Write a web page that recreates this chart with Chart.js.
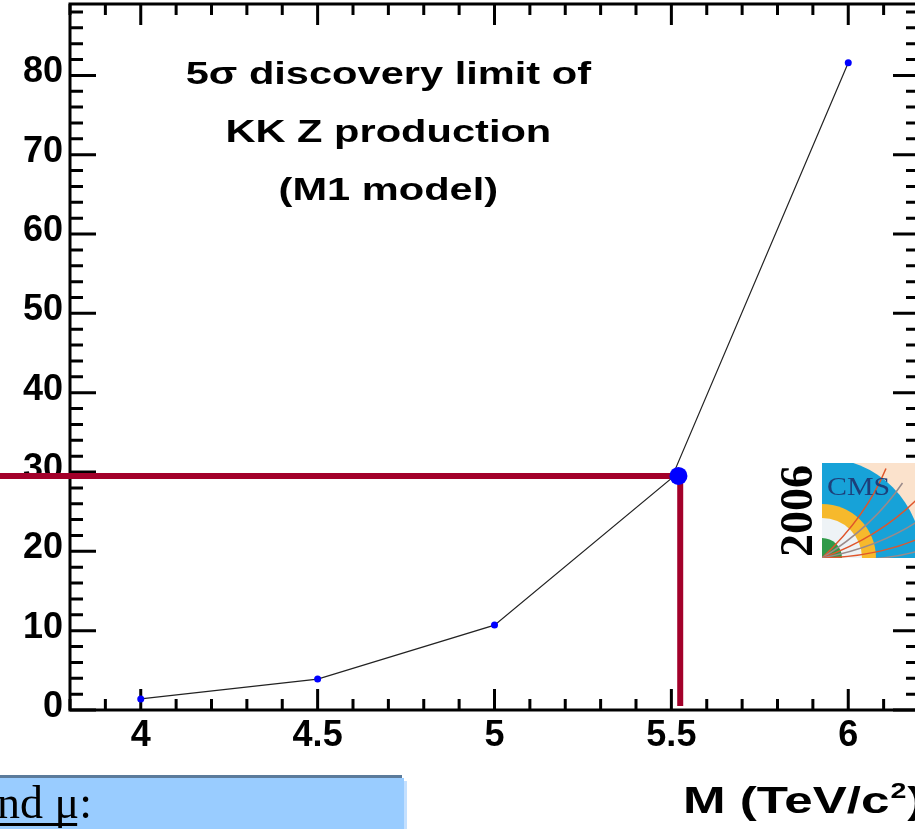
<!DOCTYPE html>
<html>
<head>
<meta charset="utf-8">
<script src="https://cdn.jsdelivr.net/npm/chart.js@4/dist/chart.umd.min.js"></script>
<style>
  html, body { margin: 0; padding: 0; background: #fff; overflow: hidden; }
  #wrap { position: relative; width: 925px; height: 829px; }
</style>
</head>
<body>
<div id="wrap"><canvas id="chart"></canvas></div>
<script>
// Valores (límite de descubrimiento 5 sigma)
const massValues = [4, 4.5, 5, 5.5, 6];
const lumiValues = [1.4, 3.9, 10.7, 29.2, 81.6];
const xTickLabels = [4, 4.5, 5, 5.5, 6];
const yTickLabels = [0, 10, 20, 30, 40, 50, 60, 70, 80];
const limitMass = [5.52];
const limitLumi = [29.5];
const titleLines = ['5σ discovery limit of', 'KK Z production', '(M1 model)'];

const RED = '#a3002a';
const BLUE = '#0000ff';
const FONT = '"Liberation Sans", Arial, sans-serif';
const SERIF = '"Liberation Serif", "Times New Roman", serif';

// texto estirado horizontalmente (el original está deformado)
function wideText(ctx, text, x, y, align, k) {
    ctx.save();
    ctx.translate(x, y);
    ctx.scale(k, 1);
    ctx.textAlign = align;
    ctx.fillText(text, 0, 0);
    ctx.restore();
    return ctx.measureText(text).width * k;
}

// Marco con marcas hacia dentro, estilo ROOT
const framePlugin = {
    id: 'frame',
    beforeDatasetsDraw(chart) {
        const { ctx, chartArea: a, scales: { x, y } } = chart;
        ctx.save();
        ctx.strokeStyle = '#000';
        ctx.lineWidth = 3;
        ctx.strokeRect(a.left, a.top, a.right - a.left, a.bottom - a.top);
        ctx.beginPath();
        for (let i = 38; i <= 62; i++) {
            const px = x.getPixelForValue(i / 10);
            const len = i % 5 === 0 ? 21 : 11;
            ctx.moveTo(px, a.bottom); ctx.lineTo(px, a.bottom - len);
            ctx.moveTo(px, a.top); ctx.lineTo(px, a.top + len);
        }
        for (let v = 0; v <= 88; v += 2) {
            const py = y.getPixelForValue(v);
            const len = v % 10 === 0 ? 26 : 13;
            ctx.moveTo(a.left, py); ctx.lineTo(a.left + len, py);
            ctx.moveTo(a.right, py); ctx.lineTo(a.right - len, py);
        }
        ctx.stroke();
        ctx.restore();
    },
    afterDraw(chart) {
        const { ctx, scales: { x } } = chart;
        ctx.save();
        // Título dentro del gráfico
        ctx.fillStyle = '#000';
        ctx.font = 'bold 32px ' + FONT;
        ctx.textBaseline = 'middle';
        const cx = x.getPixelForValue(4.7);
        titleLines.forEach((t, i) => wideText(ctx, t, cx, 75 + i * 58, 'center', 1.3));

        // Logo "2006" + CMS
        ctx.save();
        ctx.translate(798, 511);
        ctx.rotate(-Math.PI / 2);
        ctx.textAlign = 'center';
        ctx.font = 'bold 46px ' + SERIF;
        ctx.fillText('2006', 0, 2);
        ctx.restore();

        const lx = 822, ly = 463, lw = 95, lh = 95;
        ctx.save();
        ctx.beginPath();
        ctx.rect(lx, ly, lw, lh);
        ctx.clip();
        ctx.fillStyle = '#fbe2cc';
        ctx.fillRect(lx, ly, lw, lh);
        const ox = lx, oy = ly + lh;
        [[100, '#17a2d8'], [54, '#f6b92c'], [40, '#eef3f6'], [20, '#2f9a48']].forEach(([r, c]) => {
            ctx.fillStyle = c;
            ctx.beginPath();
            ctx.moveTo(ox, oy);
            ctx.arc(ox, oy, r, -Math.PI / 2, 0);
            ctx.closePath();
            ctx.fill();
        });
        ctx.lineWidth = 1.5;
        [[-0.95, '#e0552b'], [-0.75, '#9a8a8a'], [-0.55, '#e0552b'], [-0.38, '#9a8a8a'], [-0.22, '#e0552b'], [-0.1, '#9a8a8a']].forEach(([ang, c]) => {
            ctx.strokeStyle = c;
            ctx.beginPath();
            ctx.moveTo(ox, oy);
            ctx.quadraticCurveTo(ox + 60 * Math.cos(ang + 0.2), oy + 60 * Math.sin(ang + 0.2),
                ox + 110 * Math.cos(ang), oy + 110 * Math.sin(ang));
            ctx.stroke();
        });
        ctx.fillStyle = '#1d3f7a';
        ctx.font = '26px ' + SERIF;
        ctx.textBaseline = 'alphabetic';
        wideText(ctx, 'CMS', lx + 5, ly + 32, 'left', 1.15);
        ctx.restore();

        // Título del eje X
        ctx.textBaseline = 'alphabetic';
        ctx.fillStyle = '#000';
        ctx.font = 'bold 36px ' + FONT;
        const base = 813;
        let tx = 683;
        tx += wideText(ctx, 'M (TeV/c', tx, base, 'left', 1.42);
        ctx.font = 'bold 22px ' + FONT;
        tx += wideText(ctx, '2', tx + 1, base - 15, 'left', 1.3) + 2;
        ctx.font = 'bold 36px ' + FONT;
        wideText(ctx, ')', tx, base, 'left', 1.42);

        // Caja azul inferior (resto de la diapositiva)
        ctx.fillStyle = '#5b7b9b';
        ctx.fillRect(0, 775, 402, 3);
        ctx.fillStyle = '#c4e0ff';
        ctx.fillRect(404, 781, 3, 48);
        ctx.fillStyle = '#99ccff';
        ctx.fillRect(0, 778, 404, 51);
        ctx.fillStyle = '#000';
        ctx.font = '46px ' + SERIF;
        ctx.textAlign = 'left';
        ctx.fillText('nd μ:', -3, 818);
        const uw = ctx.measureText('nd μ').width;
        ctx.fillRect(0, 823, uw - 5, 3);
        ctx.restore();
    }
};

const ctx = document.getElementById('chart').getContext('2d');
new Chart(ctx, {
    type: 'line',
    data: {
        datasets: [
            {
                label: 'limit',
                data: limitMass.map((m, i) => ({ x: m, y: limitLumi[i] })),
                showLine: false,
                pointRadius: 9,
                pointBackgroundColor: BLUE,
                pointBorderWidth: 0
            },
            {
                label: '5 sigma',
                data: massValues.map((m, i) => ({ x: m, y: lumiValues[i] })),
                borderColor: '#222',
                borderWidth: 1.2,
                pointRadius: massValues.map(m => m === 5.5 ? 0 : 3.5),
                pointBackgroundColor: BLUE,
                pointBorderWidth: 0,
                tension: 0
            },
            {
                label: 'horizontal',
                data: [{ x: 3.6, y: limitLumi[0] }, { x: limitMass[0], y: limitLumi[0] }],
                borderColor: RED,
                borderWidth: 6,
                pointRadius: 0,
                clip: false
            },
            {
                label: 'vertical',
                data: [{ x: limitMass[0] + 0.005, y: limitLumi[0] }, { x: limitMass[0] + 0.005, y: 0.5 }],
                borderColor: RED,
                borderWidth: 6,
                pointRadius: 0,
                clip: false
            }
        ]
    },
    options: {
        responsive: true,
        maintainAspectRatio: false,
        animation: false,
        layout: { autoPadding: false, padding: { top: 4, right: 6, left: 0, bottom: 0 } },
        plugins: { legend: { display: false }, tooltip: { enabled: false } },
        scales: {
            x: {
                type: 'linear',
                min: 3.8,
                max: 6.2,
                afterBuildTicks: s => { s.ticks = xTickLabels.map(v => ({ value: v })); },
                afterFit: s => { s.height = 119; s.paddingLeft = 0; s.paddingRight = 0; },
                grid: { display: false, drawTicks: false },
                border: { display: false },
                ticks: {
                    autoSkip: false,
                    maxRotation: 0,
                    padding: 4,
                    color: '#000',
                    font: { family: FONT, size: 36, weight: 'bold' },
                    callback: v => String(v)
                }
            },
            y: {
                min: 0,
                max: 89,
                afterBuildTicks: s => { s.ticks = yTickLabels.map(v => ({ value: v })); },
                afterFit: s => { s.width = 70; s.paddingTop = 0; s.paddingBottom = 0; },
                grid: { display: false, drawTicks: false },
                border: { display: false },
                ticks: {
                    padding: 7,
                    labelOffset: -3,
                    color: '#000',
                    font: { family: FONT, size: 36, weight: 'bold' },
                    callback: v => String(v)
                }
            }
        }
    },
    plugins: [framePlugin]
});
</script>
</body>
</html>
